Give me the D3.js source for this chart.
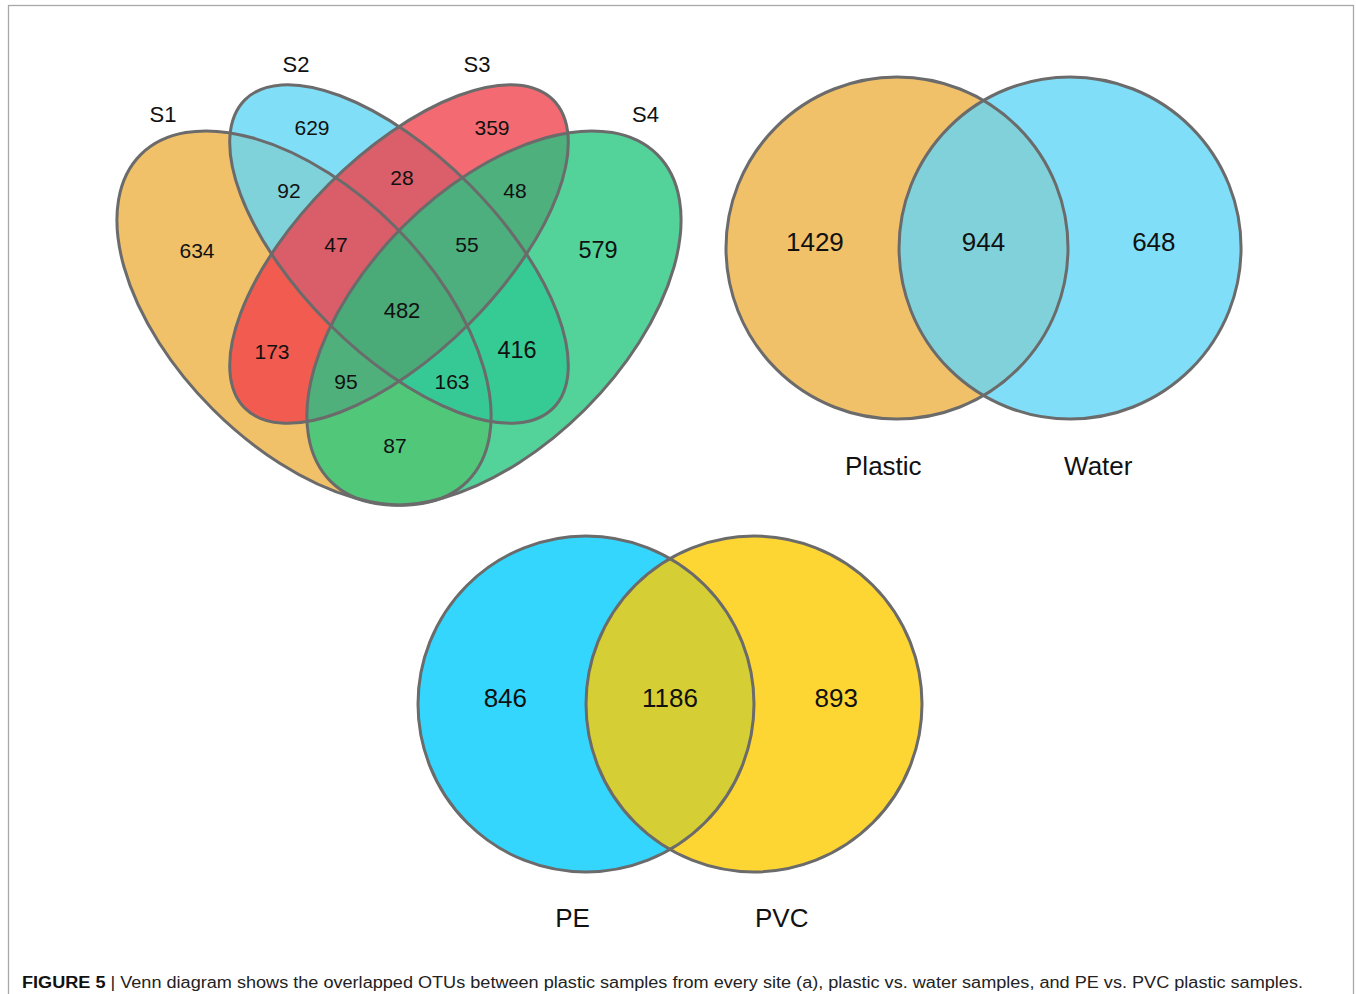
<!DOCTYPE html>
<html>
<head>
<meta charset="utf-8">
<script src="https://cdn.jsdelivr.net/npm/d3@7"></script>
<style>
  html, body { margin: 0; padding: 0; background: #fff; }
  svg { display: block; }
  text { font-family: "Liberation Sans", Arial, Helvetica, sans-serif; fill: #111; }
</style>
</head>
<body>
<svg id="fig" width="1356" height="994"></svg>
<script>
// ---------------- data ----------------
// (a) OTUs shared between plastic samples of the four sites
const siteSets = ["S1", "S2", "S3", "S4"];
const siteRegions = ["1", "2", "3", "4", "12", "13", "14", "23", "24", "34", "123", "124", "134", "234", "1234"];
const siteCounts  = [634, 629, 359, 579, 92, 173, 87, 28, 416, 48, 47, 163, 95, 55, 482];

// plastic vs. water: [Plastic only, shared, Water only]
const habitatSets = ["Plastic", "Water"];
const habitatCounts = [1429, 944, 648];

// PE vs. PVC: [PE only, shared, PVC only]
const polymerSets = ["PE", "PVC"];
const polymerCounts = [846, 1186, 893];

const captionLead = "FIGURE 5";
const captionBody = " | Venn diagram shows the overlapped OTUs between plastic samples from every site (a), plastic vs. water samples, and PE vs. PVC plastic samples.";

// ---------------- styles ----------------
const outline = "#6b6b6b";
const siteRegionColors = {
  "1": "#F1C16A", "2": "#80DEF7", "3": "#F36A72", "4": "#53D29A",
  "12": "#7FD1DA", "13": "#F15B50", "14": "#51C77A", "23": "#DA5F6A", "24": "#36CA95", "34": "#4DB07D",
  "123": "#D95E69", "124": "#37C995", "134": "#4FB07C", "234": "#4CAF7D", "1234": "#4AAA78"
};
const habitatColors = ["#F1C16A", "#80D1DA", "#80DEF8"];
const polymerColors = ["#34D6FE", "#D5CE34", "#FED634"];

// ---------------- layout ----------------
// four-set ellipse layout in unit coordinates
const quadShapes = [
  { cx: 0.3417, cy: 0.6067, rx: 0.385, ry: 0.215, angle: 45 },
  { cx: 0.5,    cy: 0.5,    rx: 0.3633, ry: 0.165, angle: 45 },
  { cx: 0.5,    cy: 0.5,    rx: 0.3633, ry: 0.165, angle: -45 },
  { cx: 0.6583, cy: 0.6067, rx: 0.385, ry: 0.215, angle: -45 }
];
const quadLabelPos = {
  "1": [0.1633, 0.4933], "2": [0.355, 0.2883], "3": [0.655, 0.2883], "4": [0.8317, 0.4933],
  "12": [0.3167, 0.3933], "13": [0.2883, 0.6617], "14": [0.4933, 0.8183], "23": [0.505, 0.3717],
  "24": [0.6967, 0.6592], "34": [0.6933, 0.3933], "123": [0.395, 0.4842], "124": [0.5883, 0.7117],
  "134": [0.4117, 0.7117], "234": [0.6133, 0.4842], "1234": [0.505, 0.5933]
};
const quadLabelSize = { "4": 23.5, "24": 23.5, "1234": 22 };
const quadSetPos = [[0.1067, 0.2667], [0.3283, 0.1833], [0.63, 0.1833], [0.9108, 0.2667]];

const svg = d3.select("#fig");
const defs = svg.append("defs");

// figure frame
svg.append("rect")
  .attr("x", 8.5).attr("y", 5.5).attr("width", 1345).attr("height", 1010)
  .attr("fill", "none").attr("stroke", "#a8a8a8").attr("stroke-width", 1.3);

// ---------------- four-set Venn ----------------
const qx = d3.scaleLinear().domain([0, 1]).range([99, 699]);
const qy = d3.scaleLinear().domain([0, 1]).range([-46, 554]);
const qlen = v => qx(v) - qx(0);

const ellipseAttrs = sel => sel
  .attr("cx", 0).attr("cy", 0)
  .attr("rx", d => qlen(d.rx)).attr("ry", d => qlen(d.ry))
  .attr("transform", d => `translate(${qx(d.cx)},${qy(d.cy)}) rotate(${d.angle})`);

defs.selectAll("clipPath.site")
  .data(quadShapes)
  .join("clipPath")
  .attr("class", "site")
  .attr("id", (d, i) => "clip-" + siteSets[i])
  .append("ellipse").call(ellipseAttrs);

const quadG = svg.append("g");

// paint regions from single sets up to the full intersection
const regionData = siteRegions.map((k, i) => ({ key: k, count: siteCounts[i] }))
  .sort((a, b) => a.key.length - b.key.length);

regionData.forEach(r => {
  let g = quadG;
  r.key.split("").forEach(c => {
    g = g.append("g").attr("clip-path", `url(#clip-${siteSets[+c - 1]})`);
  });
  g.append("rect")
    .attr("x", qx(0)).attr("y", qy(0))
    .attr("width", qlen(1)).attr("height", qlen(1))
    .attr("fill", siteRegionColors[r.key]);
});

quadG.selectAll("ellipse.outline")
  .data(quadShapes)
  .join("ellipse")
  .attr("class", "outline")
  .call(ellipseAttrs)
  .attr("fill", "none").attr("stroke", outline).attr("stroke-width", 3);

quadG.selectAll("text.count")
  .data(regionData)
  .join("text")
  .attr("class", "count")
  .attr("x", d => qx(quadLabelPos[d.key][0]))
  .attr("y", d => qy(quadLabelPos[d.key][1]))
  .attr("dy", "0.36em")
  .attr("text-anchor", "middle")
  .style("font-size", d => (quadLabelSize[d.key] || 21) + "px")
  .text(d => d.count);

quadG.selectAll("text.setname")
  .data(siteSets)
  .join("text")
  .attr("class", "setname")
  .attr("x", (d, i) => qx(quadSetPos[i][0]))
  .attr("y", (d, i) => qy(quadSetPos[i][1]))
  .attr("dy", "0.36em")
  .attr("text-anchor", "middle")
  .style("font-size", "22px")
  .text(d => d);

// ---------------- two-set Venns ----------------
// unit = circle radius; left circle centred at (0,0), right at (sep,0)
function pairVenn(id, names, counts, colors, xRange, yRange, sep) {
  const x = d3.scaleLinear().domain([0, 1]).range(xRange);
  const y = d3.scaleLinear().domain([0, 1]).range(yRange);
  const r = x(1) - x(0);
  const circles = [{ cx: 0 }, { cx: sep }];
  const g = svg.append("g");

  defs.append("clipPath").attr("id", id + "-left")
    .append("circle").attr("cx", x(0)).attr("cy", y(0)).attr("r", r);

  g.selectAll("circle.fill")
    .data(circles)
    .join("circle")
    .attr("class", "fill")
    .attr("cx", d => x(d.cx)).attr("cy", y(0)).attr("r", r)
    .attr("fill", (d, i) => colors[i * 2]);

  g.append("circle")
    .attr("clip-path", `url(#${id}-left)`)
    .attr("cx", x(sep)).attr("cy", y(0)).attr("r", r)
    .attr("fill", colors[1]);

  g.selectAll("circle.outline")
    .data(circles)
    .join("circle")
    .attr("class", "outline")
    .attr("cx", d => x(d.cx)).attr("cy", y(0)).attr("r", r)
    .attr("fill", "none").attr("stroke", outline).attr("stroke-width", 3);

  const countPos = [-0.48, sep / 2, sep + 0.49];
  g.selectAll("text.count")
    .data(counts)
    .join("text")
    .attr("class", "count")
    .attr("x", (d, i) => x(countPos[i]))
    .attr("y", y(-0.04))
    .attr("dy", "0.36em")
    .attr("text-anchor", "middle")
    .style("font-size", "26px")
    .text(d => d);

  const namePos = [-0.08, sep + 0.165];
  g.selectAll("text.setname")
    .data(names)
    .join("text")
    .attr("class", "setname")
    .attr("x", (d, i) => x(namePos[i]))
    .attr("y", y(1.272))
    .attr("dy", "0.36em")
    .attr("text-anchor", "middle")
    .style("font-size", "26px")
    .text(d => d);
}

pairVenn("habitat", habitatSets, habitatCounts, habitatColors, [897, 1068], [248, 419], 1.012);
pairVenn("polymer", polymerSets, polymerCounts, polymerColors, [586, 754], [704, 872], 1.0);

// ---------------- caption ----------------
const cap = svg.append("text")
  .attr("x", 22).attr("y", 988)
  .attr("textLength", 1281)
  .attr("lengthAdjust", "spacingAndGlyphs")
  .style("font-size", "16px");
cap.append("tspan").style("font-weight", "bold").style("fill", "#111").text(captionLead);
cap.append("tspan").style("fill", "#222").text(captionBody);
</script>
</body>
</html>
